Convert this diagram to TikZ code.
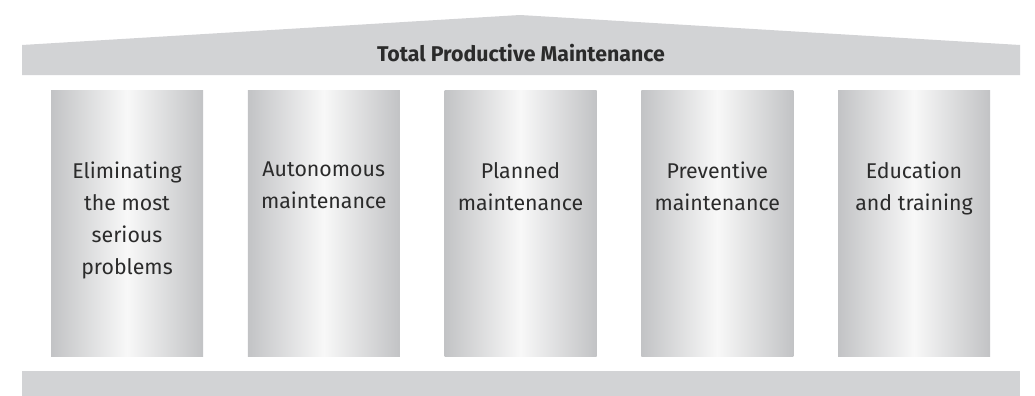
\documentclass[tikz,border=0pt]{standalone}
\usepackage{fontspec}
\setmainfont{Fira Sans}
\usetikzlibrary{positioning}

\definecolor{roofgray}{HTML}{D2D3D5}
\definecolor{pillaredge}{HTML}{C2C3C5}
\definecolor{pillarlight}{HTML}{F8F8F8}
\definecolor{textgray}{HTML}{2B2B2B}

\tikzset{
	pillar/.style={rectangle, inner sep=0pt, minimum width=114pt, minimum height=199.5pt,
		left color=pillaredge, right color=pillaredge, middle color=pillarlight},
	pillartext/.style={inner sep=0pt, align=center, text=textgray, font=\fontsize{16}{24}\selectfont},
}

\begin{document}
\begin{tikzpicture}[x=0.75pt, y=-0.75pt]
		\useasboundingbox (0,0) rectangle (1035,396);
		% roof and base
		\fill[roofgray] (22,45) -- (520,15) -- (1020,45) -- (1020,75) -- (22,75) -- cycle;
		\node[inner sep=0pt, text=textgray, font=\bfseries\fontsize{16}{19}\selectfont] (title) at (521,53) {Total Productive Maintenance};
		\fill[roofgray] (22,371) rectangle (1020,396);
		\foreach \txt [count=\n] in {{Eliminating\\the most\\serious\\problems}, {Autonomous\\maintenance}, {Planned\\maintenance}, {Preventive\\maintenance}, {Education\\and training}}{
			\node[pillar] (pillar\n) at ({127+196.75*(\n-1)},223) {};
			\node[pillartext, below=54pt of pillar\n.north] (label\n) {\txt};
		}
	\end{tikzpicture}
\end{document}
